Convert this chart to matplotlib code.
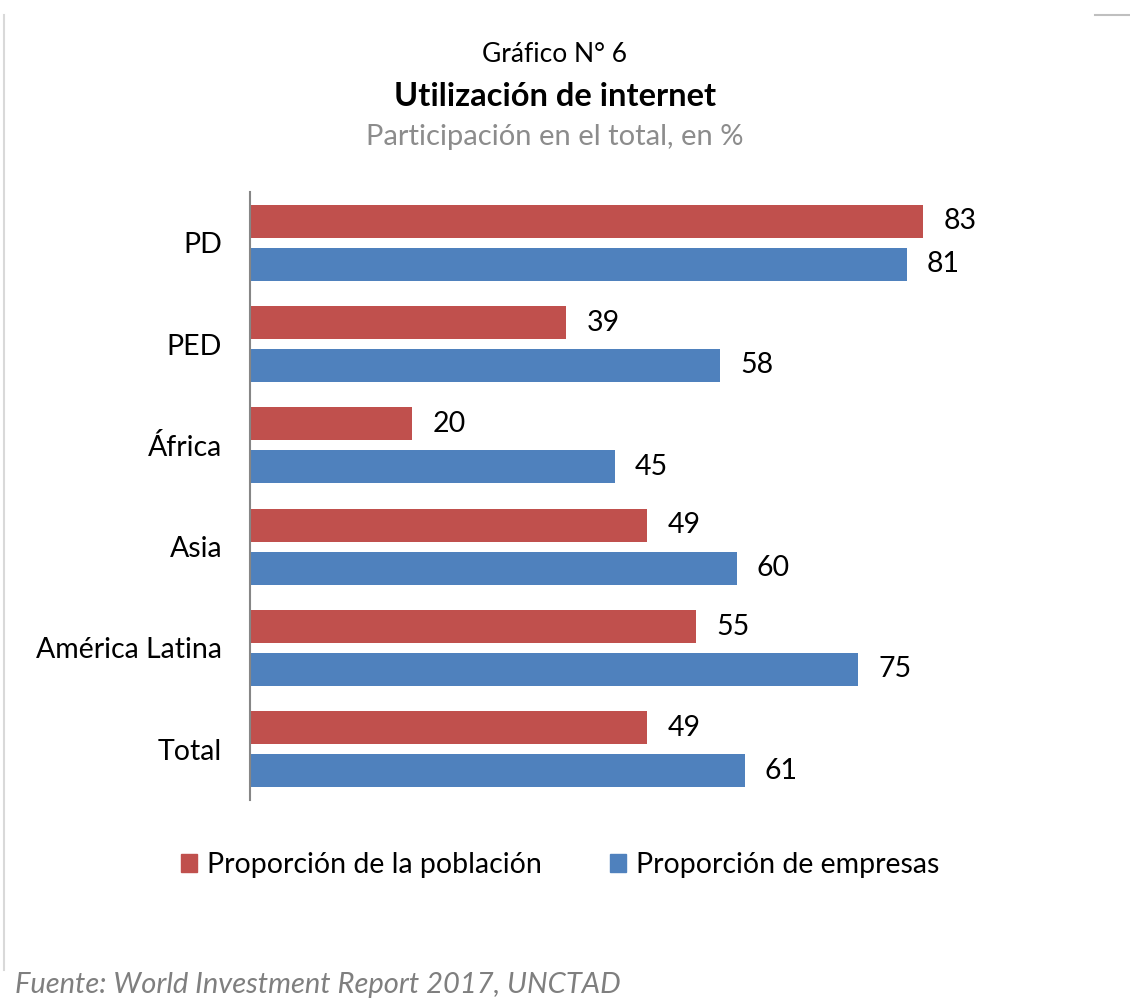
import numpy as np
import matplotlib.pyplot as plt
from matplotlib.patches import Patch

# =========================================================
# DATA
# =========================================================
categories = ["PD", "PED", "África", "Asia", "América Latina", "Total"]
poblacion = [83, 39, 20, 49, 55, 49]
empresas = [81, 58, 45, 60, 75, 61]
series_names = ["Proporción de la población", "Proporción de empresas"]

RED = "#C0504D"
BLUE = "#4F81BD"

plt.rcParams['font.family'] = ['Lato', 'DejaVu Sans']

# =========================================================
# FIGURE
# =========================================================
fig = plt.figure(figsize=(11.3, 10), dpi=100)
ax = fig.add_axes([250 / 1130, 1 - 800 / 1000, 830 / 1130, 608 / 1000])

y = np.arange(len(categories))
h = 0.325
off = 0.212

ax.barh(y - off, poblacion, height=h, color=RED)
ax.barh(y + off, empresas, height=h, color=BLUE)

for yi, v in zip(y, poblacion):
    ax.annotate(str(v), (v, yi - off), xytext=(14.5, 0), textcoords="offset points",
                va="center", ha="left", fontsize=20.5, color="#000000")
for yi, v in zip(y, empresas):
    ax.annotate(str(v), (v, yi + off), xytext=(14.5, 0), textcoords="offset points",
                va="center", ha="left", fontsize=20.5, color="#000000")

ax.set_xlim(0, 830 / 8.11)
ax.set_ylim(len(categories) - 0.5, -0.5)
ax.set_yticks(y)
ax.set_yticklabels(categories, fontsize=20.5)
ax.tick_params(axis="y", length=0, pad=20)
ax.set_xticks([])
for s in ["top", "right", "bottom"]:
    ax.spines[s].set_visible(False)
ax.spines["left"].set_color("#868686")
ax.spines["left"].set_linewidth(1.5)

# titles
fig.text(555 / 1130, 1 - 55 / 1000, "Gráfico N° 6", ha="center", va="center",
         fontsize=19, color="#000000")
fig.text(555 / 1130, 1 - 97 / 1000, "Utilización de internet", ha="center", va="center",
         fontsize=23.5, fontweight="bold", color="#000000")
fig.text(555 / 1130, 1 - 137 / 1000, "Participación en el total, en %", ha="center",
         va="center", fontsize=21, color="#8C8C8C")

# legend
handles = [Patch(color=RED), Patch(color=BLUE)]
fig.legend(handles, series_names, loc="center", bbox_to_anchor=(560 / 1130, 1 - 865 / 1000),
           ncol=2, frameon=False, fontsize=20.5, handlelength=0.55, handleheight=0.55,
           handletextpad=0.35, columnspacing=2.4)

# source
fig.text(15 / 1130, 1 - 985 / 1000, "Fuente: World Investment Report 2017, UNCTAD",
         ha="left", va="center", fontsize=21, style="italic", color="#7F7F7F")

# frame bits
fig.add_artist(plt.Line2D([4 / 1130, 4 / 1130], [1 - 15 / 1000, 0.03], color="#D9D9D9", lw=1.5))
fig.add_artist(plt.Line2D([1095 / 1130, 1.0], [1 - 15 / 1000, 1 - 15 / 1000], color="#BFBFBF", lw=1.5))

fig.savefig("out.png", dpi=100, facecolor="white")
